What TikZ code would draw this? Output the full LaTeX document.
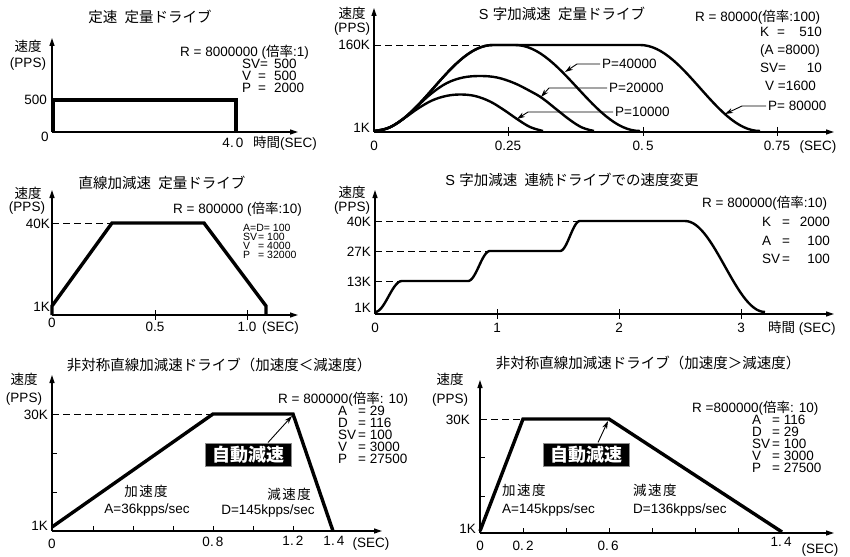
\documentclass[tikz,border=0pt]{standalone}
\usepackage{fontspec}
\setmainfont{Liberation Sans}
\newfontfamily\jp{Noto Sans CJK JP}
\usetikzlibrary{arrows.meta}
\newcommand\Sseg[4]{--plot[domain=#1:#3,samples=30](\x,{#2+(#4-#2)*(1-cos(180/(#3-#1)*(\x-#1)))/2})}
\tikzset{
  ax/.style={line width=1.2pt,-{Triangle[length=8pt,width=5pt]}},
  prof/.style={line width=3.4pt},
  scv/.style={line width=2.4pt,line join=round},
  dsh/.style={line width=0.9pt,dash pattern=on 7pt off 4pt},
  tk/.style={line width=0.9pt},
  lead/.style={line width=0.9pt,-{Stealth[length=8pt,width=5pt]}},
  lbl/.style={inner sep=0pt,font=\fontsize{13.5}{16}\selectfont},
  sml/.style={inner sep=0pt,font=\fontsize{10.5}{11}\selectfont},
  ttl/.style={inner sep=0pt,font=\fontsize{14.5}{17}\selectfont\jp},
  abox/.style={fill=black,draw=black!45,line width=1pt,text=white,inner sep=0pt,minimum width=86pt,minimum height=23pt,font=\fontsize{18}{20}\selectfont\jp\bfseries},
}
\begin{document}
\begin{tikzpicture}[x=1pt,y=-1pt]
\useasboundingbox[fill=white] (0,0) rectangle (850,556);
%================ Panel 1
\node[ttl,anchor=base] (t1) at (150,23) {定速\hspace{0.5em}定量ドライブ};
\node[lbl,anchor=base] (v1) at (28,52) {\jp 速度};
\node[lbl,anchor=base] (u1) at (28,68) {(PPS)};
\node[lbl,anchor=base east] (k1) at (47,105) {500};
\node[lbl,anchor=base] (z1) at (45,142) {0};
\node[lbl,anchor=base] (x1) at (233,148) {4.\,0};
\node[lbl,anchor=base west] (s1) at (253,148) {{\jp 時間}(SEC)};
\node[lbl,anchor=base west] (r1) at (180,57) {R = 8000000 ({\jp 倍率}:1)};
\node[lbl,anchor=base west] (r1a) at (242,69) {SV=};
\node[lbl,anchor=base west] (r1b) at (274,69) {500};
\node[lbl,anchor=base west] (r1c) at (242,81) {V};
\node[lbl,anchor=base west] (r1d) at (258,81) {=};
\node[lbl,anchor=base west] (r1e) at (274,81) {500};
\node[lbl,anchor=base west] (r1f) at (242,93) {P};
\node[lbl,anchor=base west] (r1g) at (258,93) {=};
\node[lbl,anchor=base west] (r1h) at (274,93) {2000};
\draw[ax] (52,132) -- (52,38);
\draw[ax] (52,132) -- (298,132);
\draw[prof] (53,132) -- (53,100) -- (236,100) -- (236,132);
%================ Panel 2
\node[ttl,anchor=base] (t2) at (562,20) {{\rmfamily S}\hspace{0.3em}字加減速\hspace{0.5em}定量ドライブ};
\node[lbl,anchor=base] (v2) at (352,19) {\jp 速度};
\node[lbl,anchor=base] (u2) at (352,33) {(PPS)};
\node[lbl,anchor=base east] (k2a) at (370,50) {160K};
\node[lbl,anchor=base east] (k2b) at (370,133) {1K};
\node[lbl,anchor=base] (x2a) at (374,150) {0};
\node[lbl,anchor=base] (x2b) at (508,150) {0.25};
\node[lbl,anchor=base] (x2c) at (643,150) {0.\,5};
\node[lbl,anchor=base] (x2d) at (777,150) {0.75};
\node[lbl,anchor=base] (x2e) at (818,150) {(SEC)};
\node[lbl,anchor=base west] (r2) at (695,22) {R = 80000({\jp 倍率}:100)};
\node[lbl,anchor=base west] (r2a) at (760,37) {K};
\node[lbl,anchor=base west] (r2b) at (777,37) {=};
\node[lbl,anchor=base east] (r2c) at (822,37) {510};
\node[lbl,anchor=base west] (r2d) at (760,55) {(A =8000)};
\node[lbl,anchor=base west] (r2e) at (760,73) {SV=};
\node[lbl,anchor=base east] (r2f) at (822,73) {10};
\node[lbl,anchor=base west] (r2g) at (765,91) {V =1600};
\draw[dsh] (374,45) -- (493,45);
\draw[ax] (374,132) -- (374,8);
\draw[ax] (374,132) -- (834,132);
\foreach \t in {508,643,777} \draw[tk] (\t,127) -- (\t,136);
\draw[scv] (374,131) \Sseg{374}{131}{493}{45} -- (640,45) \Sseg{640}{45}{760}{131};
\draw[scv] (374,131) \Sseg{374}{131}{493}{45} -- (515,45) \Sseg{515}{45}{640}{131};
\draw[scv] plot[smooth,tension=0.6] coordinates {(374,131) (389,127.7) (404,118.3) (418,105.5) (432,93) (447,83) (463,77.5) (480,76) (497,77.5) (514,83) (530,91) (542,98) (556,109) (570,120) (582,127.5) (594,131)};
\draw[scv] plot[smooth,tension=0.6] coordinates {(374,131) (389,127.7) (404,118.4) (418,108.5) (432,100.5) (446,96) (460,94.5) (475,96) (490,101.5) (504,110) (517,119) (530,127) (543,131)};
\node[lbl,anchor=west] (p40) at (602,64) {P=40000};
\node[lbl,anchor=west] (p20) at (609,88) {P=20000};
\node[lbl,anchor=west] (p10) at (615,112) {P=10000};
\node[lbl,anchor=west] (p80) at (768,106) {P= 80000};
\coordinate (e40) at (577,64); \coordinate (a40) at (565,72);
\coordinate (e20) at (549,88); \coordinate (a20) at (541,97);
\coordinate (e10) at (528,112); \coordinate (a10) at (517,119);
\coordinate (e80) at (742,106); \coordinate (a80) at (725,114);
\draw[lead] ([xshift=-2pt]p40.west) -- (e40) -- (a40);
\draw[lead] ([xshift=-2pt]p20.west) -- (e20) -- (a20);
\draw[lead] ([xshift=-2pt]p10.west) -- (e10) -- (a10);
\draw[lead] ([xshift=-2pt]p80.west) -- (e80) -- (a80);
%================ Panel 3
\node[ttl,anchor=base] (t3) at (162,188) {直線加減速\hspace{0.5em}定量ドライブ};
\node[lbl,anchor=base] (v3) at (28,198) {\jp 速度};
\node[lbl,anchor=base] (u3) at (27,211) {(PPS)};
\node[lbl,anchor=base east] (k3a) at (50,228) {40K};
\node[lbl,anchor=base east] (k3b) at (50,311) {1K};
\node[lbl,anchor=base] (x3a) at (52,327) {0};
\node[lbl,anchor=base] (x3b) at (155,331) {0.5};
\node[lbl,anchor=base] (x3c) at (247,331) {1.0};
\node[lbl,anchor=base west] (x3d) at (262,331) {(SEC)};
\node[lbl,anchor=base west] (r3) at (173,213) {R = 800000 ({\jp 倍率}:10)};
\node[sml,anchor=base west] (r3a) at (243,231) {A=D= 100};
\node[sml,anchor=base west] (r3b) at (243,240) {SV};
\node[sml,anchor=base west] (r3c) at (258,240) {= 100};
\node[sml,anchor=base west] (r3d) at (243,249) {V};
\node[sml,anchor=base west] (r3e) at (258,249) {= 4000};
\node[sml,anchor=base west] (r3f) at (243,258) {P};
\node[sml,anchor=base west] (r3g) at (258,258) {= 32000};
\draw[dsh] (52,223) -- (112,223);
\draw[ax] (52,315) -- (52,190);
\draw[ax] (52,315) -- (298,315);
\foreach \t in {155,247} \draw[tk] (\t,310) -- (\t,320);
\draw[prof] (52,315) -- (52,306) -- (112,223) -- (204,223) -- (266,306) -- (266,315);
%================ Panel 4
\node[ttl,anchor=base] (t4) at (572,185) {{\rmfamily S}\hspace{0.3em}字加減速\hspace{0.5em}連続ドライブでの速度変更};
\node[lbl,anchor=base] (v4) at (352,197) {\jp 速度};
\node[lbl,anchor=base] (u4) at (352,211) {(PPS)};
\node[lbl,anchor=base east] (k4a) at (371,226) {40K};
\node[lbl,anchor=base east] (k4b) at (371,256) {27K};
\node[lbl,anchor=base east] (k4c) at (371,286) {13K};
\node[lbl,anchor=base east] (k4d) at (371,312) {1K};
\node[lbl,anchor=base] (x4a) at (375,332) {0};
\node[lbl,anchor=base] (x4b) at (497,332) {1};
\node[lbl,anchor=base] (x4c) at (619,332) {2};
\node[lbl,anchor=base] (x4d) at (741,332) {3};
\node[lbl,anchor=base west] (x4e) at (768,332) {{\jp 時間} (SEC)};
\node[lbl,anchor=base west] (r4) at (702,207) {R = 800000({\jp 倍率}:10)};
\node[lbl,anchor=base west] (r4a) at (762,226) {K};
\node[lbl,anchor=base west] (r4b) at (782,226) {=};
\node[lbl,anchor=base east] (r4c) at (830,226) {2000};
\node[lbl,anchor=base west] (r4d) at (762,245) {A};
\node[lbl,anchor=base west] (r4e) at (782,245) {=};
\node[lbl,anchor=base east] (r4f) at (830,245) {100};
\node[lbl,anchor=base west] (r4g) at (762,263) {SV};
\node[lbl,anchor=base west] (r4h) at (782,263) {=};
\node[lbl,anchor=base east] (r4i) at (830,263) {100};
\draw[dsh] (375,221) -- (580,221);
\draw[dsh] (375,251) -- (490,251);
\draw[dsh] (375,281) -- (402,281);
\draw[ax] (375,314) -- (375,190);
\draw[ax] (375,314) -- (834,314);
\foreach \t in {497,619,741} \draw[tk] (\t,309) -- (\t,319);
\draw[scv] (375,312) \Sseg{375}{312}{402}{281} -- (468,281) \Sseg{468}{281}{490}{251} -- (560,251) \Sseg{560}{251}{580}{221} -- (685,221) \Sseg{685}{221}{765}{312};
%================ Panel 5
\node[ttl,anchor=base] (t5) at (219,370) {非対称直線加減速ドライブ（加速度＜減速度）};
\node[lbl,anchor=base] (v5) at (24,384) {\jp 速度};
\node[lbl,anchor=base] (u5) at (24,402) {(PPS)};
\node[lbl,anchor=base east] (k5a) at (48,419) {30K};
\node[lbl,anchor=base east] (k5b) at (48,530) {1K};
\node[lbl,anchor=base] (x5a) at (52,548) {0};
\node[lbl,anchor=base] (x5b) at (213,546) {0.\,8};
\node[lbl,anchor=base] (x5c) at (293,545) {1.\,2};
\node[lbl,anchor=base] (x5d) at (334,545) {1.\,4};
\node[lbl,anchor=base] (x5e) at (371,547) {(SEC)};
\node[lbl,anchor=base west] (r5) at (278,403) {R = 800000({\jp 倍率}: 10)};
\node[lbl,anchor=base west] (r5a) at (338,415) {A};
\node[lbl,anchor=base west] (r5b) at (338,427) {D};
\node[lbl,anchor=base west] (r5c) at (338,439) {SV};
\node[lbl,anchor=base west] (r5d) at (338,451) {V};
\node[lbl,anchor=base west] (r5e) at (338,463) {P};
\node[lbl,anchor=base west] (r5f) at (358,415) {= 29};
\node[lbl,anchor=base west] (r5g) at (358,427) {= 116};
\node[lbl,anchor=base west] (r5h) at (358,439) {= 100};
\node[lbl,anchor=base west] (r5i) at (358,451) {= 3000};
\node[lbl,anchor=base west] (r5j) at (358,463) {= 27500};
\node[lbl,anchor=base] (c5a) at (146,496) {\jp 加\hspace{1.5pt}速\hspace{1.5pt}度};
\node[lbl,anchor=base] (c5b) at (147,513) {A=36kpps/sec};
\node[lbl,anchor=base] (c5c) at (289,499) {\jp 減\hspace{1.5pt}速\hspace{1.5pt}度};
\node[lbl,anchor=base] (c5d) at (268,514) {D=145kpps/sec};
\draw[dsh] (52,414) -- (213,414);
\draw[ax] (52,531) -- (52,375);
\draw[ax] (52,531) -- (382,531);
\foreach \t in {93,133,173,213,253,293} \draw[tk] (\t,531) -- (\t,526);
\foreach \t in {453,492} \draw[tk] (52,\t) -- (57,\t);
\draw[prof,line join=miter] (52,527) -- (213,414) -- (293,414) -- (333,531);
\node[abox] (ad5) at (248,454.5) {自動減速};
\coordinate (q5) at (292,416);
\draw[lead] ([xshift=20pt]ad5.north) -- (q5);
%================ Panel 6
\node[ttl,anchor=base] (t6) at (648,368) {非対称直線加減速ドライブ（加速度＞減速度）};
\node[lbl,anchor=base] (v6) at (450,384) {\jp 速度};
\node[lbl,anchor=base] (u6) at (450,403) {(PPS)};
\node[lbl,anchor=base east] (k6a) at (470,424) {30K};
\node[lbl,anchor=base east] (k6b) at (476,533) {1K};
\node[lbl,anchor=base] (x6a) at (480,550) {0};
\node[lbl,anchor=base] (x6b) at (523,550) {0.\,2};
\node[lbl,anchor=base] (x6c) at (608,550) {0.\,6};
\node[lbl,anchor=base] (x6d) at (781,546) {1.\,4};
\node[lbl,anchor=base] (x6e) at (820,553) {(SEC)};
\node[lbl,anchor=base west] (r6) at (692,412) {R =800000({\jp 倍率}: 10)};
\node[lbl,anchor=base west] (r6a) at (752,424) {A};
\node[lbl,anchor=base west] (r6b) at (752,436) {D};
\node[lbl,anchor=base west] (r6c) at (752,448) {SV};
\node[lbl,anchor=base west] (r6d) at (752,460) {V};
\node[lbl,anchor=base west] (r6e) at (752,472) {P};
\node[lbl,anchor=base west] (r6f) at (772,424) {= 116};
\node[lbl,anchor=base west] (r6g) at (772,436) {= 29};
\node[lbl,anchor=base west] (r6h) at (772,448) {= 100};
\node[lbl,anchor=base west] (r6i) at (772,460) {= 3000};
\node[lbl,anchor=base west] (r6j) at (772,472) {= 27500};
\node[lbl,anchor=base west] (c6a) at (502,495) {\jp 加\hspace{1.5pt}速\hspace{1.5pt}度};
\node[lbl,anchor=base west] (c6b) at (502,513) {A=145kpps/sec};
\node[lbl,anchor=base west] (c6c) at (633,495) {\jp 減\hspace{1.5pt}速\hspace{1.5pt}度};
\node[lbl,anchor=base west] (c6d) at (633,513) {D=136kpps/sec};
\draw[dsh] (480,419) -- (523,419);
\draw[ax] (480,533) -- (480,380);
\draw[ax] (480,533) -- (834,533);
\foreach \t in {523,566,609,652,695,738} \draw[tk] (\t,533) -- (\t,528);
\foreach \t in {457,496} \draw[tk] (480,\t) -- (485,\t);
\draw[prof,line join=miter] (480,531) -- (523,419) -- (609,419) -- (782,532);
\node[abox] (ad6) at (586,454.5) {自動減速};
\coordinate (q6) at (608,421);
\draw[lead] ([xshift=12pt]ad6.north) -- (q6);
\end{tikzpicture}
\end{document}
